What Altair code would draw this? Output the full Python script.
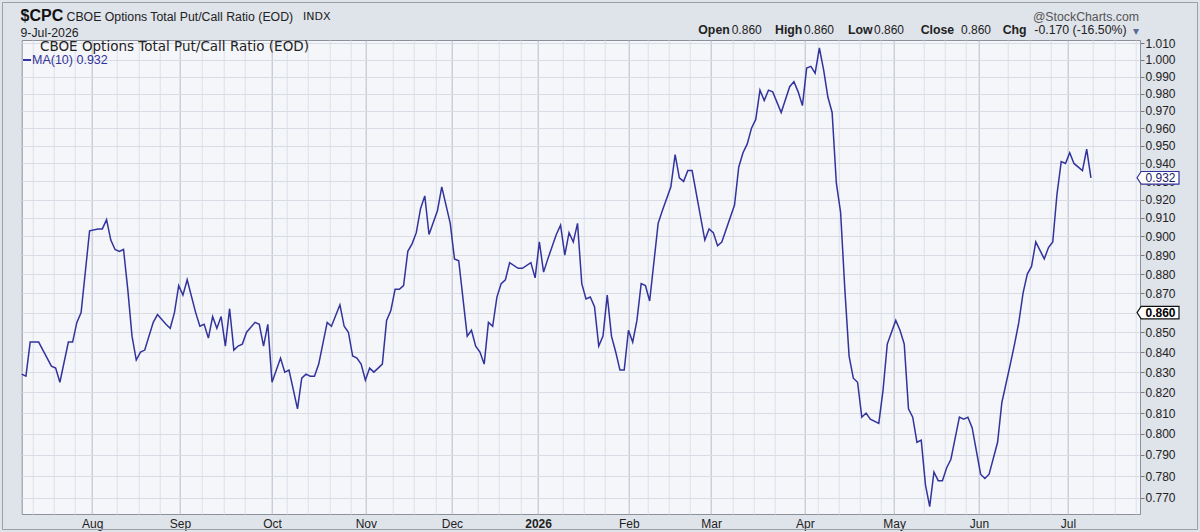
import altair as alt
import pandas as pd

# ---------------- data ----------------
day = [0, 1, 2, 4, 5, 7, 8, 9, 11, 12, 13, 14, 16, 18, 19, 20, 21, 22, 23, 24,
       25, 26, 27, 28, 29, 31, 32, 34, 35, 36, 37, 38, 39, 41, 42, 43, 44, 45, 46, 47,
       48, 49, 50, 51, 52, 53, 55, 56, 57, 58, 59, 61, 62, 63, 65, 66, 67, 68, 69, 70,
       72, 73, 75, 76, 77, 78, 79, 80, 81, 82, 83, 85, 86, 87, 88, 89, 90, 91, 92, 93,
       94, 95, 96, 98, 99, 101, 102, 103, 105, 106, 107, 108, 109, 110, 111, 112, 113, 114, 115, 117,
       118, 120, 121, 122, 123, 124, 126, 127, 128, 129, 130, 131, 132, 133, 134, 135, 136, 137, 138, 139,
       140, 141, 142, 143, 144, 145, 146, 147, 148, 150, 151, 153, 154, 155, 156, 157, 158, 161, 162, 163,
       164, 165, 168, 169, 170, 171, 172, 173, 174, 175, 176, 177, 179, 181, 182, 183, 184, 185, 186, 187,
       188, 189, 190, 191, 192, 193, 194, 195, 196, 197, 198, 199, 200, 202, 203, 204, 206, 207, 208, 209,
       210, 211, 212, 213, 214, 215, 216, 217, 218, 219, 221, 222, 223, 224, 226, 227, 228, 230, 231, 233,
       234, 235, 236, 237, 238, 239, 241, 242, 243, 244, 245, 246, 247, 248, 250, 251, 252]

ma10 = [0.829, 0.828, 0.845, 0.845, 0.841, 0.833, 0.832, 0.825, 0.845, 0.845, 0.855, 0.860, 0.903, 0.904, 0.904, 0.909, 0.898, 0.893, 0.892, 0.893,
        0.872, 0.848, 0.836, 0.840, 0.841, 0.855, 0.859, 0.854, 0.852, 0.860, 0.874, 0.869, 0.877, 0.860, 0.853, 0.854, 0.847, 0.858, 0.852, 0.858,
        0.843, 0.862, 0.841, 0.843, 0.844, 0.850, 0.855, 0.854, 0.843, 0.854, 0.825, 0.837, 0.830, 0.831, 0.812, 0.827, 0.829, 0.828, 0.828, 0.834,
        0.855, 0.853, 0.864, 0.853, 0.850, 0.838, 0.837, 0.834, 0.826, 0.832, 0.830, 0.834, 0.856, 0.861, 0.872, 0.872, 0.874, 0.892, 0.896, 0.902,
        0.915, 0.922, 0.901, 0.914, 0.927, 0.907, 0.888, 0.887, 0.848, 0.851, 0.843, 0.840, 0.834, 0.855, 0.853, 0.868, 0.875, 0.877, 0.886, 0.883,
        0.883, 0.886, 0.878, 0.897, 0.881, 0.888, 0.901, 0.906, 0.890, 0.902, 0.897, 0.907, 0.875, 0.867, 0.868, 0.863, 0.843, 0.848, 0.869, 0.848,
        0.840, 0.831, 0.831, 0.851, 0.845, 0.856, 0.875, 0.874, 0.866, 0.907, 0.914, 0.927, 0.945, 0.932, 0.930, 0.936, 0.936, 0.898, 0.904, 0.902,
        0.895, 0.897, 0.917, 0.938, 0.946, 0.951, 0.960, 0.965, 0.982, 0.976, 0.982, 0.981, 0.969, 0.984, 0.987, 0.981, 0.973, 0.995, 0.996, 0.992,
        1.007, 0.994, 0.978, 0.969, 0.929, 0.913, 0.872, 0.838, 0.827, 0.825, 0.808, 0.810, 0.807, 0.805, 0.821, 0.844, 0.856, 0.851, 0.844, 0.812,
        0.808, 0.796, 0.797, 0.776, 0.766, 0.782, 0.778, 0.778, 0.784, 0.788, 0.808, 0.807, 0.808, 0.803, 0.781, 0.779, 0.781, 0.796, 0.815, 0.834,
        0.844, 0.855, 0.870, 0.880, 0.884, 0.897, 0.888, 0.894, 0.897, 0.923, 0.941, 0.940, 0.946, 0.940, 0.936, 0.948, 0.932]

month_pos = [16.6, 37.3, 59.0, 81.1, 101.4, 121.7, 143.1, 162.5, 184.6, 205.6, 225.6, 246.6]
month_lbl = ["Aug", "Sep", "Oct", "Nov", "Dec", "2026", "Feb", "Mar", "Apr", "May", "Jun", "Jul"]

y_ticks = [0.770, 0.780, 0.790, 0.800, 0.810, 0.820, 0.830, 0.840, 0.850, 0.860, 0.870, 0.880,
           0.890, 0.900, 0.910, 0.920, 0.930, 0.940, 0.950, 0.960, 0.970, 0.980, 0.990, 1.000, 1.010]

symbol = "$CPC"
title_txt = "CBOE Options Total Put/Call Ratio (EOD)"
exch = "INDX"
date_txt = "9-Jul-2026"
open_v, high_v, low_v, close_v = 0.860, 0.860, 0.860, 0.860
chg_v, chg_pct = -0.170, -16.50
ma_name = "MA(10)"

# ---------------- layout ----------------
L, T, R, B = 21.7, 40.0, 1140.0, 514.0
PX_PER_DAY = 4.243
BLUE = "#33339c"
INK = "#222222"
ARIAL = "Liberation Sans"
VERD = "DejaVu Sans"

weekly = [2.5 + 5 * k for k in range(53)
          if 2.5 + 5 * k < (R - L) / PX_PER_DAY and min(abs(2.5 + 5 * k - m) for m in month_pos) > 2.2]
x_vals = sorted(month_pos + weekly)
mp = ",".join(str(m) for m in month_pos)
ml = ",".join("'" + s + "'" for s in month_lbl)

xscale = alt.Scale(domain=[0, (R - L) / PX_PER_DAY], nice=False, zero=False)
xaxis = alt.Axis(values=x_vals, title=None, ticks=False, domain=False,
                 labelExpr=f"[{ml}][indexof([{mp}], datum.value)] || ''",
                 labelFont=ARIAL, labelFontSize=12, labelColor=INK, labelPadding=4,
                 labelOverlap=False, labelFlush=False,
                 labelFontWeight={"condition": {"test": f"datum.value == {month_pos[5]}", "value": "bold"},
                                  "value": "normal"},
                 grid=True, gridWidth=1,
                 gridColor={"condition": {"test": f"indexof([{mp}], datum.value) >= 0", "value": "#b9bdc8"},
                            "value": "#dde0e8"})

yscale = alt.Scale(type="log", domain=[0.76267, 1.01181], nice=False, zero=False)
yaxis = alt.Axis(orient="right", values=y_ticks, format=".3f", title=None, domain=False,
                 tickSize=4, tickColor="#777777", labelPadding=1,
                 labelFont=ARIAL, labelFontSize=12, labelColor=INK,
                 labelOverlap=False, labelFlush=False,
                 grid=True, gridColor="#d9dce4", gridWidth=1)

df = pd.DataFrame({"day": day, "value": ma10})

line = alt.Chart(df).mark_line(color=BLUE, strokeWidth=1.5).encode(
    x=alt.X("day:Q", scale=xscale, axis=xaxis),
    y=alt.Y("value:Q", scale=yscale, axis=yaxis),
)


def txt(s, x, y, size=12, weight="normal", color=INK, font=ARIAL, align="left"):
    return alt.Chart(pd.DataFrame({"t": [s]})).mark_text(
        align=align, baseline="middle", font=font, fontSize=size, fontWeight=weight, color=color
    ).encode(x=alt.value(x - L), y=alt.value(y - T), text="t:N")


box_path = "M -1 0 L -0.8 -0.3 L 1 -0.3 L 1 0.3 L -0.8 0.3 Z"


def vbox(v, stroke, weight, tcolor):
    d = pd.DataFrame({"value": [v], "t": [f"{v:.3f}"]})
    shape = alt.Chart(d).mark_point(shape=box_path, size=1764, filled=True, fill="white",
                                    stroke=stroke, strokeWidth=1.2, opacity=1).encode(
        x=alt.value(1158 - L), y=alt.Y("value:Q", scale=yscale, axis=yaxis))
    lab = alt.Chart(d).mark_text(align="center", baseline="middle", font=ARIAL, fontSize=12,
                                 fontWeight=weight, color=tcolor).encode(
        x=alt.value(1160.5 - L), y=alt.Y("value:Q", scale=yscale, axis=yaxis), text="t:N")
    return shape + lab


one = pd.DataFrame({"a": [0]})
frame = alt.Chart(one).mark_rect(filled=False, stroke="#9aa0aa", strokeWidth=1).encode(
    x=alt.value(2.5 - L), x2=alt.value(1197.5 - L), y=alt.value(2.5 - T), y2=alt.value(529.5 - T))
leg_dash = alt.Chart(one).mark_rule(color=BLUE, strokeWidth=2).encode(
    x=alt.value(23 - L), x2=alt.value(31 - L), y=alt.value(60 - T))

texts = [
    txt(symbol, 20.5, 16, size=16, weight="bold", color="#111111"),
    txt(title_txt, 66.5, 16.5, size=12.3),
    txt(exch, 303, 16.5, size=11, font=VERD),
    txt(date_txt, 20.5, 32.5, size=12.3),
    txt("@StockCharts.com", 1139, 16.5, size=12.3, color="#555555", align="right"),
    txt("Open", 698.3, 30, size=12.3, weight="bold"),
    txt(f"{open_v:.3f}", 731.7, 30, size=12),
    txt("High", 775, 30, size=12.3, weight="bold"),
    txt(f"{high_v:.3f}", 804, 30, size=12),
    txt("Low", 848, 30, size=12.3, weight="bold"),
    txt(f"{low_v:.3f}", 874, 30, size=12),
    txt("Close", 920.7, 30, size=12.3, weight="bold"),
    txt(f"{close_v:.3f}", 961, 30, size=12),
    txt("Chg", 1002.7, 30, size=12.3, weight="bold"),
    txt(f"{chg_v:.3f} ({chg_pct:.2f}%)", 1034.3, 30, size=12.3),
    txt("\u25BE", 1133, 31, size=12, color="#5a6a9a"),
    txt(title_txt, 40, 47, size=13.5, font=VERD),
    txt(f"{ma_name} {ma10[-1]:.3f}", 32, 60, size=12.5, color=BLUE),
]

chart = alt.layer(
    line, vbox(ma10[-1], BLUE, "normal", "#1a1a6a"), vbox(close_v, "#111111", "bold", "#000000"),
    frame, leg_dash, *texts
).properties(
    width=R - L, height=B - T,
    padding={"left": L, "top": T, "right": 1200 - R, "bottom": 532 - B},
    autosize=alt.AutoSizeParams(type="none"),
    background="#dfe3ea",
).configure_view(fill="#f4f6fa", stroke="#8c909a", strokeWidth=1)

chart.save("out.html", embed_options={"renderer": "svg", "actions": False})
